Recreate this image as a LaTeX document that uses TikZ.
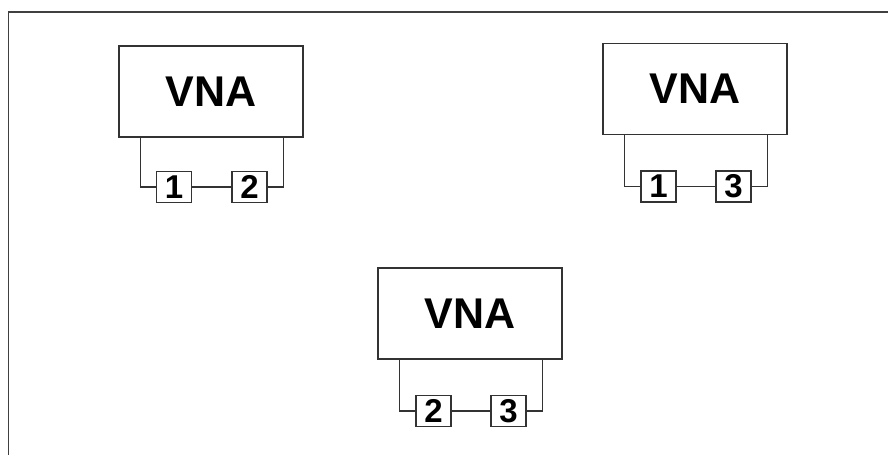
\documentclass[tikz,border=0pt]{standalone}
\usepackage{fontspec}
\setmainfont{Liberation Sans}
\begin{document}
\begin{tikzpicture}[x=1pt,y=-1pt,
  wire/.style={draw=black!80,line width=1.1pt},
  vnabox/.style={draw=black!80,line width=1.1pt,minimum width=184pt,minimum height=91pt,
    inner sep=0pt,font=\fontsize{43}{43}\selectfont\bfseries},
  portbox/.style={draw=black!80,line width=1.1pt,minimum width=35pt,minimum height=31pt,
    inner sep=0pt,font=\fontsize{33}{33}\selectfont\bfseries}]
  \useasboundingbox (0,0) rectangle (888,455);
  % outer frame (top and left edges)
  \coordinate (ftr) at (888,12);
  \coordinate (ftl) at (8.5,12);
  \coordinate (fbl) at (8.5,455);
  \draw[draw=black!75,line width=1.5pt] (ftr) -- (ftl) -- (fbl);

  % measurement setup: ports 1 and 2
  \node[vnabox] (va) at (211,91.5) {VNA};
  \node[portbox] (pa1) at (174,187) {1};
  \node[portbox] (pa2) at (249.5,187) {2};
  \coordinate (val) at ([xshift=22pt]va.south west);
  \coordinate (var) at ([xshift=-20pt]va.south east);
  \draw[wire] (val) |- (pa1.west);
  \draw[wire] (pa1) -- (pa2);
  \draw[wire] (var) |- (pa2.east);

  % measurement setup: ports 1 and 3
  \node[vnabox] (vb) at (695,89) {VNA};
  \node[portbox] (pb1) at (658.5,186.5) {1};
  \node[portbox] (pb3) at (733.5,186.5) {3};
  \coordinate (vbl) at ([xshift=22pt]vb.south west);
  \coordinate (vbr) at ([xshift=-20pt]vb.south east);
  \draw[wire] (vbl) |- (pb1.west);
  \draw[wire] (pb1) -- (pb3);
  \draw[wire] (vbr) |- (pb3.east);

  % measurement setup: ports 2 and 3
  \node[vnabox] (vc) at (470,313.5) {VNA};
  \node[portbox] (pc2) at (433.5,411) {2};
  \node[portbox] (pc3) at (508.5,411) {3};
  \coordinate (vcl) at ([xshift=22pt]vc.south west);
  \coordinate (vcr) at ([xshift=-20pt]vc.south east);
  \draw[wire] (vcl) |- (pc2.west);
  \draw[wire] (pc2) -- (pc3);
  \draw[wire] (vcr) |- (pc3.east);
\end{tikzpicture}
\end{document}
